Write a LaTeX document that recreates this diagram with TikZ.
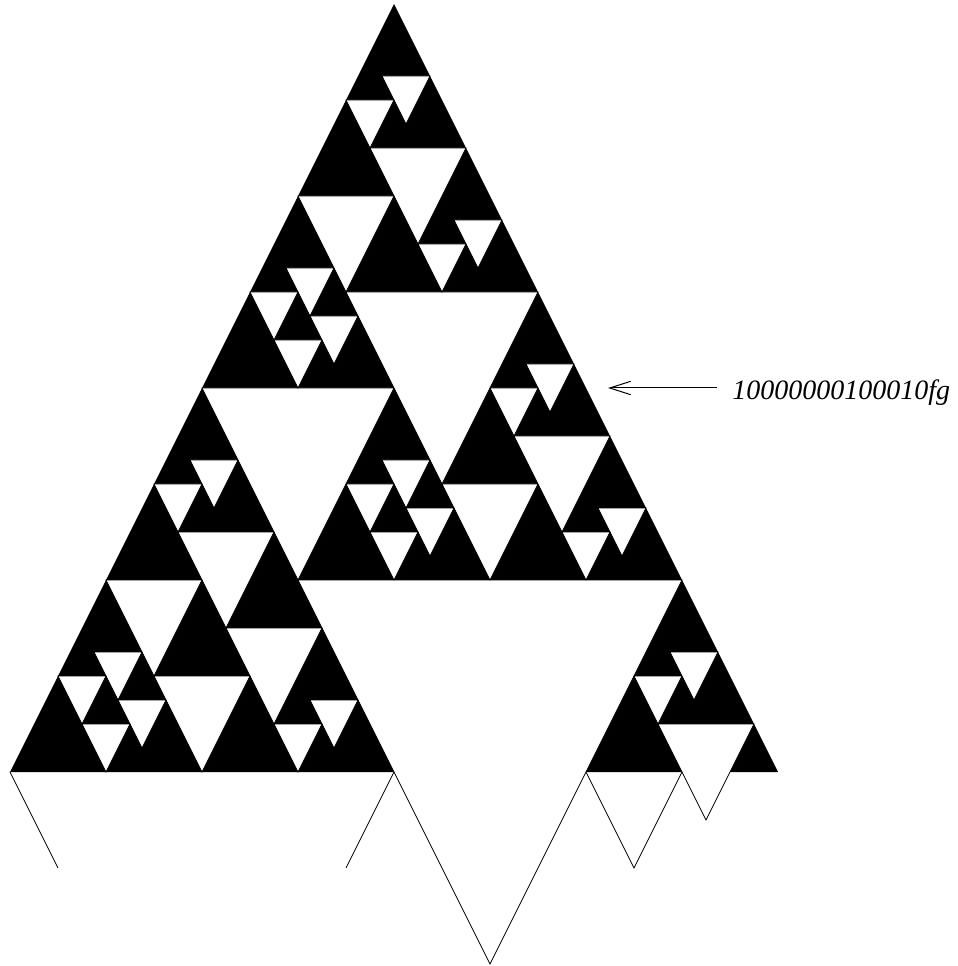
\documentclass[tikz,border=0pt]{standalone}
\usepackage{fontspec}
\setmainfont{Liberation Serif}
\usetikzlibrary{arrows.meta}

\begin{document}
\begin{tikzpicture}[x=12pt,y=12pt,
  hole/.style={fill=white,draw=black,line width=0.4pt},
  rim/.style={draw=black,line width=0.4pt}]

\useasboundingbox (-0.4167,-8.0833) rectangle (39.5,32.1667);

% Gasket body
\fill[black] (0,0) -- (32,0) -- (16,32) -- cycle;

% Holes (top left corner x / y, width w)
\foreach \x/\y/\w in {12/8/16, 8/16/8, 14/20/8,
    15/26/4, 12/24/4, 7/10/4, 4/8/4, 9/6/4, 6/4/4, 18/12/4, 21/14/4, 27/2/4}
  \filldraw[hole] (\x,\y) -- ++(\w,0) -- ++(-\w/2,-\w) -- cycle;

% Smallest holes
\foreach \x/\y in {15.5/29, 14/28, 18.5/23, 17/22, 11.5/21, 10/20, 12.5/19, 11/18,
    21.5/17, 20/16, 15.5/13, 14/12, 16.5/11, 15/10, 24.5/11, 23/10, 7.5/13, 6/12,
    3.5/5, 2/4, 4.5/3, 3/2, 12.5/3, 11/2, 26/4, 27.5/5}
  \filldraw[hole] (\x,\y) -- ++(2,0) -- ++(-1,-2) -- cycle;

% Open edges below the base
\draw[rim] (0,0) -- (2,-4);
\draw[rim] (16,0) -- (14,-4);
\draw[rim] (24,0) -- (26,-4) -- (28,0);

% Label
\coordinate (tip) at (24.92,16);
\node[anchor=base west, inner xsep=7.5pt, inner ysep=0pt,
  font=\fontsize{14}{16}\selectfont\itshape] (addr) at (29.46,15.5) {10000000100010fg};
\draw[-{Straight Barb[length=10.5pt,width=6.7pt]}, line width=0.5pt] (addr.west |- tip) -- (tip);

\end{tikzpicture}
\end{document}
